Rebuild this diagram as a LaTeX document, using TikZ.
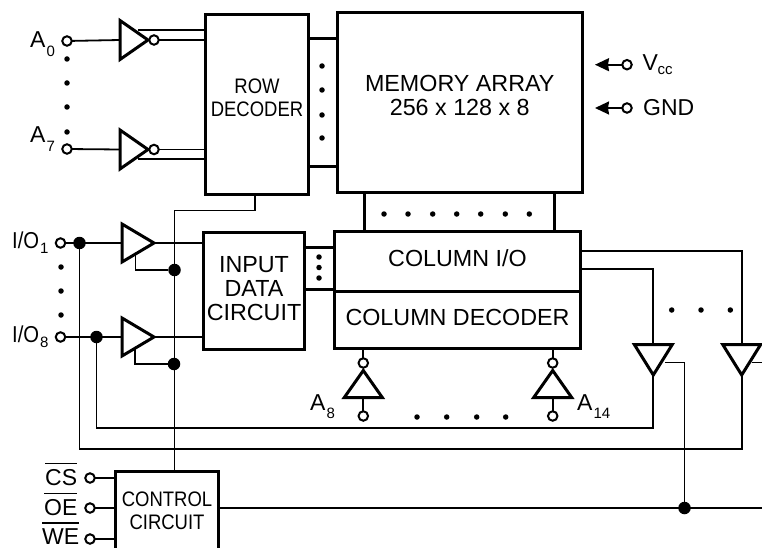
\documentclass[tikz,border=0pt]{standalone}
\usepackage{fontspec}
\setmainfont{Liberation Sans}
\newfontfamily\narrowsf[FakeStretch=0.88]{Liberation Sans}
\usetikzlibrary{arrows.meta, positioning, shapes.geometric}

\newcommand{\lowidx}[2]{\kern1pt\raisebox{-#1}{\fontsize{15}{15}\selectfont #2}}
\newcommand{\barred}[1]{\leavevmode\vbox{\hrule height 1.6pt\kern 4.5pt\hbox{#1}}}

\tikzset{
  blk/.style={draw, line width=3pt, outer sep=0pt, inner sep=0pt,
              font=\fontsize{23.3}{23.8}\selectfont, align=center},
  blktxt/.style={inner sep=0pt, align=center},
  wire/.style={line width=1.8pt},
  bus/.style={line width=3pt},
  pin/.style={circle, draw, fill=white, line width=2pt, inner sep=0pt,
              outer sep=0pt, minimum size=9.5pt},
  lbl/.style={inner sep=0pt, anchor=base west, font=\fontsize{23}{24}\selectfont},
  joint/.style={circle, fill=black, inner sep=0pt, minimum size=12.5pt},
  tick/.style={circle, fill=black, inner sep=0pt, minimum size=5.5pt},
  tri/.style={isosceles triangle, isosceles triangle stretches, draw,
              line width=3pt, inner sep=0pt, outer sep=0pt, anchor=lower side},
  inv/.style={tri, minimum width=39pt, minimum height=28pt},
  buf/.style={tri, minimum width=38pt, minimum height=32pt},
  bufdn/.style={tri, minimum width=38pt, minimum height=30.5pt, shape border rotate=-90},
  invup/.style={tri, minimum width=38pt, minimum height=27pt, shape border rotate=90}
}

\begin{document}
\begin{tikzpicture}[x=1pt, y=-1pt, >=Stealth]
  \useasboundingbox (0,0) rectangle (762,548);
  \clip (0,0) rectangle (762,548);

  % blocks
  \node[blk, minimum width=103pt, minimum height=180pt] (rowdec) at (257,104.5) {};
  \node[blktxt, font=\fontsize{21}{23}\narrowsf] (rowtxt) at (257,97.5) {ROW\\DECODER};
  \node[blk, minimum width=244.5pt, minimum height=180pt] (memarr) at (459.75,102.5) {};
  \node[blktxt, font=\fontsize{23.3}{24}\selectfont] (memtxt) at (459.75,95) {MEMORY ARRAY\\256 x 128 x 8};
  \node[blk, minimum width=101pt, minimum height=117pt] (indata) at (254,291) {};
  \node[blktxt, font=\fontsize{23.3}{23.8}\selectfont] (intxt) at (254,288.5) {INPUT\\DATA\\CIRCUIT};
  \node[blk, minimum width=246pt, minimum height=59.5pt, text depth=7pt] (colio) at (457.5,261.25) {COLUMN I/O};
  \node[blk, minimum width=246pt, minimum height=57.5pt, text depth=5pt, below=0pt of colio] (coldec)
    {COLUMN DECODER};
  \node[blk, minimum width=103pt, minimum height=95pt, anchor=north] (ctrl) at (167,471.5) {};
  \node[blktxt, font=\fontsize{21}{23}\narrowsf] (ctrltxt) at (167,511) {CONTROL\\CIRCUIT};

  % address pins and row inverters
  \node[lbl] (a0lbl) at (30,48) {A\lowidx{9pt}{0}};
  \node[lbl] (a7lbl) at (30,143) {A\lowidx{9pt}{7}};
  \node[pin] (a0pin) at (67,41) {};
  \node[pin] (a7pin) at (67,149) {};
  \node[inv] (a0inv) at (120,40) {};
  \node[inv] (a7inv) at (120,149.5) {};
  \node[pin] (a0bub) at (154,40) {};
  \node[pin] (a7bub) at (154,149.5) {};
  \coordinate (a0tap) at (138,30);
  \coordinate (a7tap) at (138,159);
  \draw[wire] (a0pin) -- (a0inv.lower side);
  \draw[wire] (a7pin) -- (a7inv.lower side);
  \draw[wire] (a0bub) -- (a0bub -| rowdec.west);
  \draw[wire] (a7bub) -- (a7bub -| rowdec.west);
  \draw[wire] (a0tap) -- (a0tap -| rowdec.west);
  \draw[wire] (a7tap) -- (a7tap -| rowdec.west);
  \foreach \i/\y in {1/59, 2/83, 3/107, 4/132}
    \node[tick] (adot\i) at (67,\y) {};

  % row lines
  \coordinate (rowtop) at (310,39);
  \coordinate (rowbot) at (310,167);
  \draw[bus] (rowtop) -- (rowtop -| memarr.west);
  \draw[bus] (rowbot) -- (rowbot -| memarr.west);
  \foreach \i/\y in {1/66, 2/90, 3/115, 4/138}
    \node[tick] (rdot\i) at (322,\y) {};

  % column lines
  \coordinate (colleft) at (364,194);
  \coordinate (colright) at (554,194);
  \draw[bus] (colleft) -- (colleft |- colio.north);
  \draw[bus] (colright) -- (colright |- colio.north);
  \foreach \i/\x in {1/384, 2/408, 3/432.7, 4/456.7, 5/480.7, 6/505.3, 7/529.3}
    \node[tick] (cdot\i) at (\x,214) {};

  % input data lines
  \coordinate (intop) at (306,247);
  \coordinate (inbot) at (306,289);
  \draw[bus] (intop) -- (intop -| colio.west);
  \draw[bus] (inbot) -- (inbot -| colio.west);
  \foreach \i/\y in {1/257, 2/267.5, 3/278}
    \node[tick] (idot\i) at (319,\y) {};

  % I/O pins and input buffers
  \node[lbl] (io1lbl) at (12,248.5) {{\narrowsf I/O}\lowidx{5pt}{1}};
  \node[lbl] (io8lbl) at (12,342) {{\narrowsf I/O}\lowidx{5pt}{8}};
  \node[pin] (io1pin) at (60.5,243) {};
  \node[pin] (io8pin) at (60.5,337) {};
  \node[joint] (io1jn) at (79.5,243) {};
  \node[joint] (io8jn) at (96.5,337) {};
  \node[buf] (in1buf) at (122,243) {};
  \node[buf] (in8buf) at (122,337) {};
  \node[joint] (en1jn) at (174.5,270) {};
  \node[joint] (en8jn) at (174,364) {};
  \coordinate (en1tap) at (135.5,255);
  \coordinate (en8tap) at (135,349);
  \draw[wire] (io1pin) -- (in1buf.lower side);
  \draw[wire] (io8pin) -- (in8buf.lower side);
  \draw[wire] (in1buf.apex) -- (in1buf.apex -| indata.west);
  \draw[wire] (in8buf.apex) -- (in8buf.apex -| indata.west);
  \draw[wire] (en1tap) |- (en1jn);
  \draw[wire] (en8tap) |- (en8jn);
  \foreach \i/\y in {1/267, 2/291, 3/315}
    \node[tick] (odot\i) at (61,\y) {};

  % column address inverters
  \node[lbl] (a8lbl) at (310,410) {A\lowidx{8pt}{8}};
  \node[lbl] (a14lbl) at (577,410) {A\lowidx{8pt}{14}};
  \node[invup] (a8inv) at (363.3,397.5) {};
  \node[invup] (a14inv) at (552.7,397.5) {};
  \node[pin] (a8bub) at (363.3,363) {};
  \node[pin] (a14bub) at (552.7,363) {};
  \node[pin] (a8pin) at (363.3,416) {};
  \node[pin] (a14pin) at (552.7,416) {};
  \draw[wire] (a8bub) -- (a8bub |- coldec.south);
  \draw[wire] (a14bub) -- (a14bub |- coldec.south);
  \draw[wire] (a8inv.lower side) -- (a8pin);
  \draw[wire] (a14inv.lower side) -- (a14pin);
  \foreach \i/\x in {1/417, 2/446.7, 3/476.7, 4/505.7}
    \node[tick] (bdot\i) at (\x,417) {};

  % output buffers
  \node[bufdn] (out1buf) at (653.3,344.5) {};
  \node[bufdn] (out8buf) at (741.7,344.5) {};
  \coordinate (out1src) at (582,269.3);
  \coordinate (out8src) at (582,251);
  \coordinate (out1en) at (665,362.5);
  \coordinate (out8en) at (752,362.5);
  \coordinate (edgeen) at (762,362.5);
  \coordinate (edgebus) at (762,508);
  \draw[wire] (out1src) -| (out1buf.lower side);
  \draw[line width=2.1pt] (out8src) -| (out8buf.lower side);
  \draw[wire] (io1jn) |- (out8buf.apex |- 0,449) -- (out8buf.apex);
  \draw[wire] (io8jn) |- (out1buf.apex |- 0,428) -- (out1buf.apex);
  \foreach \i/\x in {1/671.7, 2/701, 3/730.3}
    \node[tick] (tdot\i) at (\x,310) {};

  % control
  \node[lbl] (cslbl) at (45,485) {\barred{CS}};
  \node[lbl] (oelbl) at (44,515) {\barred{OE}};
  \node[lbl] (welbl) at (42,544) {\barred{WE}};
  \node[pin] (cspin) at (90,478) {};
  \node[pin] (oepin) at (90,508) {};
  \node[pin] (wepin) at (90,539) {};
  \draw[wire] (cspin) -- (cspin -| ctrl.west);
  \draw[wire] (oepin) -- (oepin -| ctrl.west);
  \draw[wire] (wepin) -- (wepin -| ctrl.west);
  \coordinate (rowen) at (255,210.5);
  \draw[wire] (rowdec.south -| rowen) -- (rowen) -| (ctrl.north -| en1jn);
  \node[joint] (busjn) at (684.5,508) {};
  \draw[wire] (ctrl.east |- oepin) -- (edgebus);
  \draw[wire] (out1en) -| (busjn);
  \draw[wire] (out8en) -- (edgeen);

  % supply
  \node[pin] (vccpin) at (627,64.7) {};
  \node[pin] (gndpin) at (627,108) {};
  \coordinate (vccend) at (595,64.7);
  \coordinate (gndend) at (595,108);
  \draw[wire, -{Stealth[length=14pt, width=13pt, inset=1pt]}] (vccpin) -- (vccend);
  \draw[wire, -{Stealth[length=14pt, width=13pt, inset=1pt]}] (gndpin) -- (gndend);
  \node[lbl] (vcclbl) at (642.5,70.7) {V\kern-.5pt\raisebox{-3.5pt}{\fontsize{15}{15}\selectfont cc}};
  \node[lbl] (gndlbl) at (643,115.7) {GND};
\end{tikzpicture}
\end{document}
